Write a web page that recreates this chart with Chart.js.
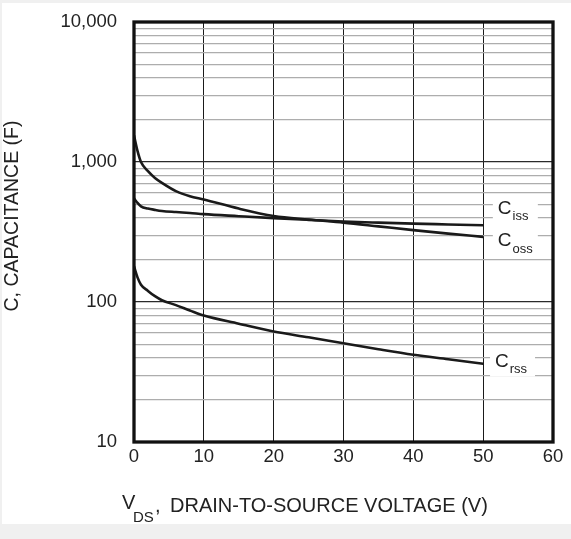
<!DOCTYPE html>
<html>
<head>
<meta charset="utf-8">
<script src="https://cdn.jsdelivr.net/npm/chart.js@4.4.0/dist/chart.umd.min.js"></script>
<style>
  html, body { margin: 0; padding: 0; background: #fff; }
  #wrap { width: 571px; height: 539px; }
</style>
</head>
<body>
<div id="wrap"><canvas id="myChart" width="571" height="539"></canvas></div>
<script>
// V_DS sample points (V) and capacitance (pF)
const voltage = [0, 0.5, 1, 2, 3, 4, 6, 8, 10, 15, 20, 25, 30, 35, 40, 45, 50];
const ciss = [550, 510, 482, 465, 455, 447, 439, 432, 424, 410, 397, 386, 376, 369, 363, 358, 353];
const coss = [1550, 1200, 1000, 860, 770, 710, 620, 570, 540, 465, 412, 388, 369, 347, 326, 308, 292];
const crss = [180, 150, 133, 120, 110, 103, 95, 87, 80, 70, 61.5, 56, 50.7, 46, 42, 39, 36.2];
const seriesSubs = ['iss', 'oss', 'rss'];
const xTicks = [0, 10, 20, 30, 40, 50, 60];
const yTicks = [10, 100, 1000, 10000];

const FONT = '"Liberation Sans", Arial, sans-serif';
const INK = '#222';
Chart.defaults.font.family = FONT;

const toPoints = (ys) => voltage.map((v, i) => ({x: v, y: ys[i]}));
const isDecade = (v) => yTicks.includes(v);

// where the C_xxx tags sit, in data units
const tagPos = [
  {x: 52.1, y: 466},
  {x: 52.1, y: 273},
  {x: 51.7, y: 37.6},
];

const paper = {
  id: 'paper',
  beforeDraw(chart) {
    const {ctx, width, height, chartArea} = chart;
    ctx.save();
    ctx.fillStyle = '#f0f0f0';
    ctx.fillRect(0, 0, width, height);
    ctx.fillStyle = '#fff';
    ctx.fillRect(2, 3, width - 2, chartArea.bottom + 82 - 3);
    ctx.restore();
  }
};

const frameAndTags = {
  id: 'frameAndTags',
  afterDatasetsDraw(chart) {
    const {ctx, chartArea: a, scales} = chart;
    ctx.save();
    // series tags with white knock-out behind them
    seriesSubs.forEach((sub, i) => {
      const px = scales.x.getPixelForValue(tagPos[i].x);
      const py = scales.y.getPixelForValue(tagPos[i].y);
      ctx.fillStyle = '#fff';
      ctx.fillRect(px - 5, py - 13, 45, 28);
      ctx.fillStyle = INK;
      ctx.textBaseline = 'middle';
      ctx.textAlign = 'left';
      ctx.font = '19px ' + FONT;
      ctx.fillText('C', px, py);
      const w = ctx.measureText('C').width;
      ctx.textBaseline = 'alphabetic';
      ctx.font = '13px ' + FONT;
      ctx.fillText(sub, px + w + 1, py + 12);
    });
    // heavy frame
    ctx.strokeStyle = '#111';
    ctx.lineWidth = 3.3;
    ctx.strokeRect(a.left, a.top, a.right - a.left, a.bottom - a.top);
    ctx.restore();
  },
  afterDraw(chart) {
    const {ctx, chartArea: a} = chart;
    ctx.save();
    ctx.fillStyle = INK;
    ctx.textAlign = 'left';
    ctx.textBaseline = 'alphabetic';
    // x title: V_DS, DRAIN-TO-SOURCE VOLTAGE (V)
    const x0 = a.left - 12;
    const base = a.bottom + 70;
    ctx.font = '20px ' + FONT;
    ctx.fillText('V', x0, base - 3);
    ctx.font = '15px ' + FONT;
    ctx.fillText('DS', x0 + 11, base + 10);
    ctx.font = '20px ' + FONT;
    ctx.fillText(',', x0 + 33, base);
    ctx.fillText('DRAIN-TO-SOURCE VOLTAGE (V)', x0 + 48, base);
    // y title
    ctx.translate(13, (a.top + a.bottom) / 2 - 16);
    ctx.rotate(-Math.PI / 2);
    ctx.textAlign = 'center';
    ctx.textBaseline = 'middle';
    ctx.font = '19.5px ' + FONT;
    ctx.fillText('C, CAPACITANCE (F)', 0, 0);
    ctx.restore();
  }
};

const lineStyle = {
  borderColor: '#1a1a1a',
  borderWidth: 2.6,
  pointRadius: 0,
  fill: false,
  cubicInterpolationMode: 'monotone',
};

const data = {
  datasets: [
    {label: 'Ciss', data: toPoints(ciss), ...lineStyle},
    {label: 'Coss', data: toPoints(coss), ...lineStyle},
    {label: 'Crss', data: toPoints(crss), ...lineStyle},
  ]
};

const config = {
  type: 'line',
  data,
  options: {
    responsive: false,
    animation: false,
    layout: {padding: {top: 22, right: 18, left: 0, bottom: 0}},
    plugins: {legend: {display: false}, tooltip: {enabled: false}},
    scales: {
      x: {
        type: 'linear',
        min: 0,
        max: 60,
        afterBuildTicks(scale) { scale.ticks = xTicks.map(v => ({value: v})); },
        afterFit(scale) {
          scale.height = 97;
          scale.paddingLeft = 0;
          scale.paddingRight = 0;
        },
        ticks: {color: INK, font: {size: 18.5}, padding: 4, maxRotation: 0, autoSkip: false},
        grid: {color: '#1a1a1a', lineWidth: 1, drawTicks: false},
        border: {display: false},
      },
      y: {
        type: 'logarithmic',
        min: 10,
        max: 10000,
        afterBuildTicks(scale) {
          const t = [];
          for (let i = 0; i < yTicks.length - 1; i++) {
            for (let k = 1; k <= 9; k++) t.push({value: yTicks[i] * k, major: k === 1});
          }
          t.push({value: yTicks[yTicks.length - 1], major: true});
          scale.ticks = t;
        },
        afterFit(scale) {
          scale.width = 134;
          scale.paddingTop = 0;
          scale.paddingBottom = 0;
        },
        ticks: {
          color: INK,
          font: {size: 18.5},
          padding: 17,
          autoSkip: false,
          callback: (v) => isDecade(v) ? v.toLocaleString('en-US') : '',
        },
        grid: {
          color: (c) => (c.tick && isDecade(c.tick.value)) ? '#2a2a2a' : '#adadad',
          lineWidth: 1.2,
          drawTicks: false,
        },
        border: {display: false},
      }
    }
  },
  plugins: [paper, frameAndTags]
};

const myChart = new Chart(document.getElementById('myChart'), config);
</script>
</body>
</html>
